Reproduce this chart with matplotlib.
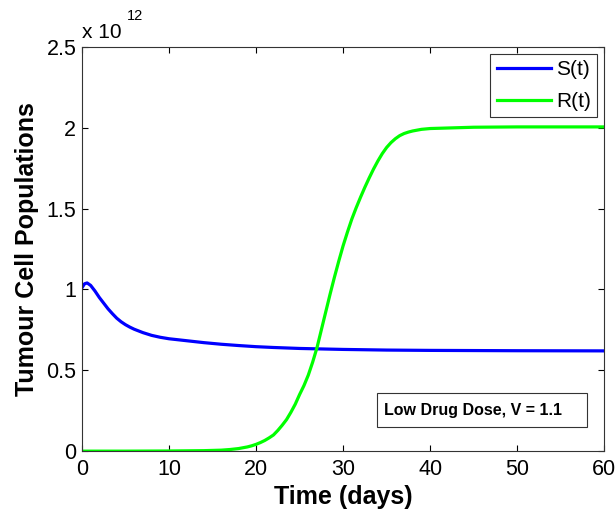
import numpy as np
import matplotlib.pyplot as plt
from matplotlib.patches import Rectangle
from matplotlib.ticker import FuncFormatter

plt.rcParams['font.family'] = ['Liberation Sans', 'DejaVu Sans']

# sensitive cells S(t), in units of 1e12
t_s = [0, 0.3, 0.6, 1.0, 1.5, 2, 2.5, 3, 3.5, 4, 4.5, 5, 5.5, 6, 7, 8, 9, 10, 11, 12,
       14, 16, 18, 20, 22, 25, 30, 35, 40, 50, 60]
s_vals = [1.01, 1.035, 1.04, 1.025, 0.99, 0.95, 0.915, 0.88, 0.85, 0.822, 0.80, 0.782,
          0.767, 0.754, 0.733, 0.716, 0.704, 0.695, 0.689, 0.683, 0.671, 0.661, 0.653,
          0.646, 0.641, 0.635, 0.629, 0.625, 0.623, 0.621, 0.620]

# resistant cells R(t), in units of 1e12
t_r = [0, 5, 10, 14, 16, 17, 18, 19, 19.5, 20, 20.5, 21, 21.5, 22, 22.5, 23, 23.5, 24,
       24.5, 25, 25.5, 26, 26.5, 27, 27.5, 28, 28.5, 29, 29.5, 30, 30.5, 31, 31.5, 32,
       32.5, 33, 33.5, 34, 34.5, 35, 35.5, 36, 36.5, 37, 37.5, 38, 39, 40, 45, 50, 60]
r_vals = [0, 0, 0.001, 0.003, 0.006, 0.01, 0.016, 0.026, 0.033, 0.042, 0.053, 0.066,
          0.082, 0.10, 0.128, 0.16, 0.195, 0.24, 0.29, 0.35, 0.405, 0.47, 0.55, 0.64,
          0.75, 0.86, 0.97, 1.075, 1.175, 1.27, 1.355, 1.435, 1.505, 1.57, 1.632, 1.69,
          1.745, 1.795, 1.84, 1.878, 1.908, 1.932, 1.951, 1.964, 1.973, 1.98, 1.99, 1.995,
          2.003, 2.005, 2.005]

scale = 1e12
S = np.array(s_vals) * scale
R = np.array(r_vals) * scale

fig = plt.figure(figsize=(6.16, 5.15), dpi=100)
ax = fig.add_axes([0.133, 0.124, 0.848, 0.785])

ax.plot(t_s, S, color='#0000ff', lw=2.3, label='S(t)')
ax.plot(t_r, R, color='#00ff00', lw=2.3, label='R(t)')

ax.set_xlim(0, 60)
ax.set_ylim(0, 2.5e12)
ax.set_xticks(np.arange(0, 61, 10))
ax.set_yticks(np.arange(0, 2.51e12, 0.5e12))
ax.yaxis.set_major_formatter(FuncFormatter(lambda v, p: '%g' % (v / scale)))
ax.tick_params(direction='in', top=True, right=True, labelsize=15.5, length=4, width=0.8)
ax.tick_params(axis='x', pad=6)
ax.tick_params(axis='y', pad=4)
for sp in ax.spines.values():
    sp.set_linewidth(0.8)
    sp.set_color('#333333')

ax.set_xlabel('Time (days)', fontsize=18, fontweight='bold', labelpad=3)
ax.set_ylabel('Tumour Cell Populations', fontsize=18, fontweight='bold', labelpad=5)

# exponent label, MATLAB style
fig.text(0.133, 0.918, 'x 10', fontsize=15, ha='left', va='bottom')
fig.text(0.206, 0.955, '12', fontsize=10.5, ha='left', va='bottom')

leg = ax.legend(loc='upper right', fontsize=15, fancybox=False, framealpha=1,
                edgecolor='#333333', borderaxespad=0.35, handlelength=2.6,
                handletextpad=0.25, borderpad=0.3, labelspacing=0.6)
leg.get_frame().set_linewidth(0.8)

# annotation box
ax.add_patch(Rectangle((0.565, 0.059), 0.402, 0.085, transform=ax.transAxes,
                       fc='white', ec='#333333', lw=0.8, zorder=3))
ax.text(0.578, 0.1015, 'Low Drug Dose, V = 1.1', transform=ax.transAxes, fontsize=11.5,
        fontweight='bold', ha='left', va='center', zorder=4)

fig.savefig('out.png', dpi=100)
